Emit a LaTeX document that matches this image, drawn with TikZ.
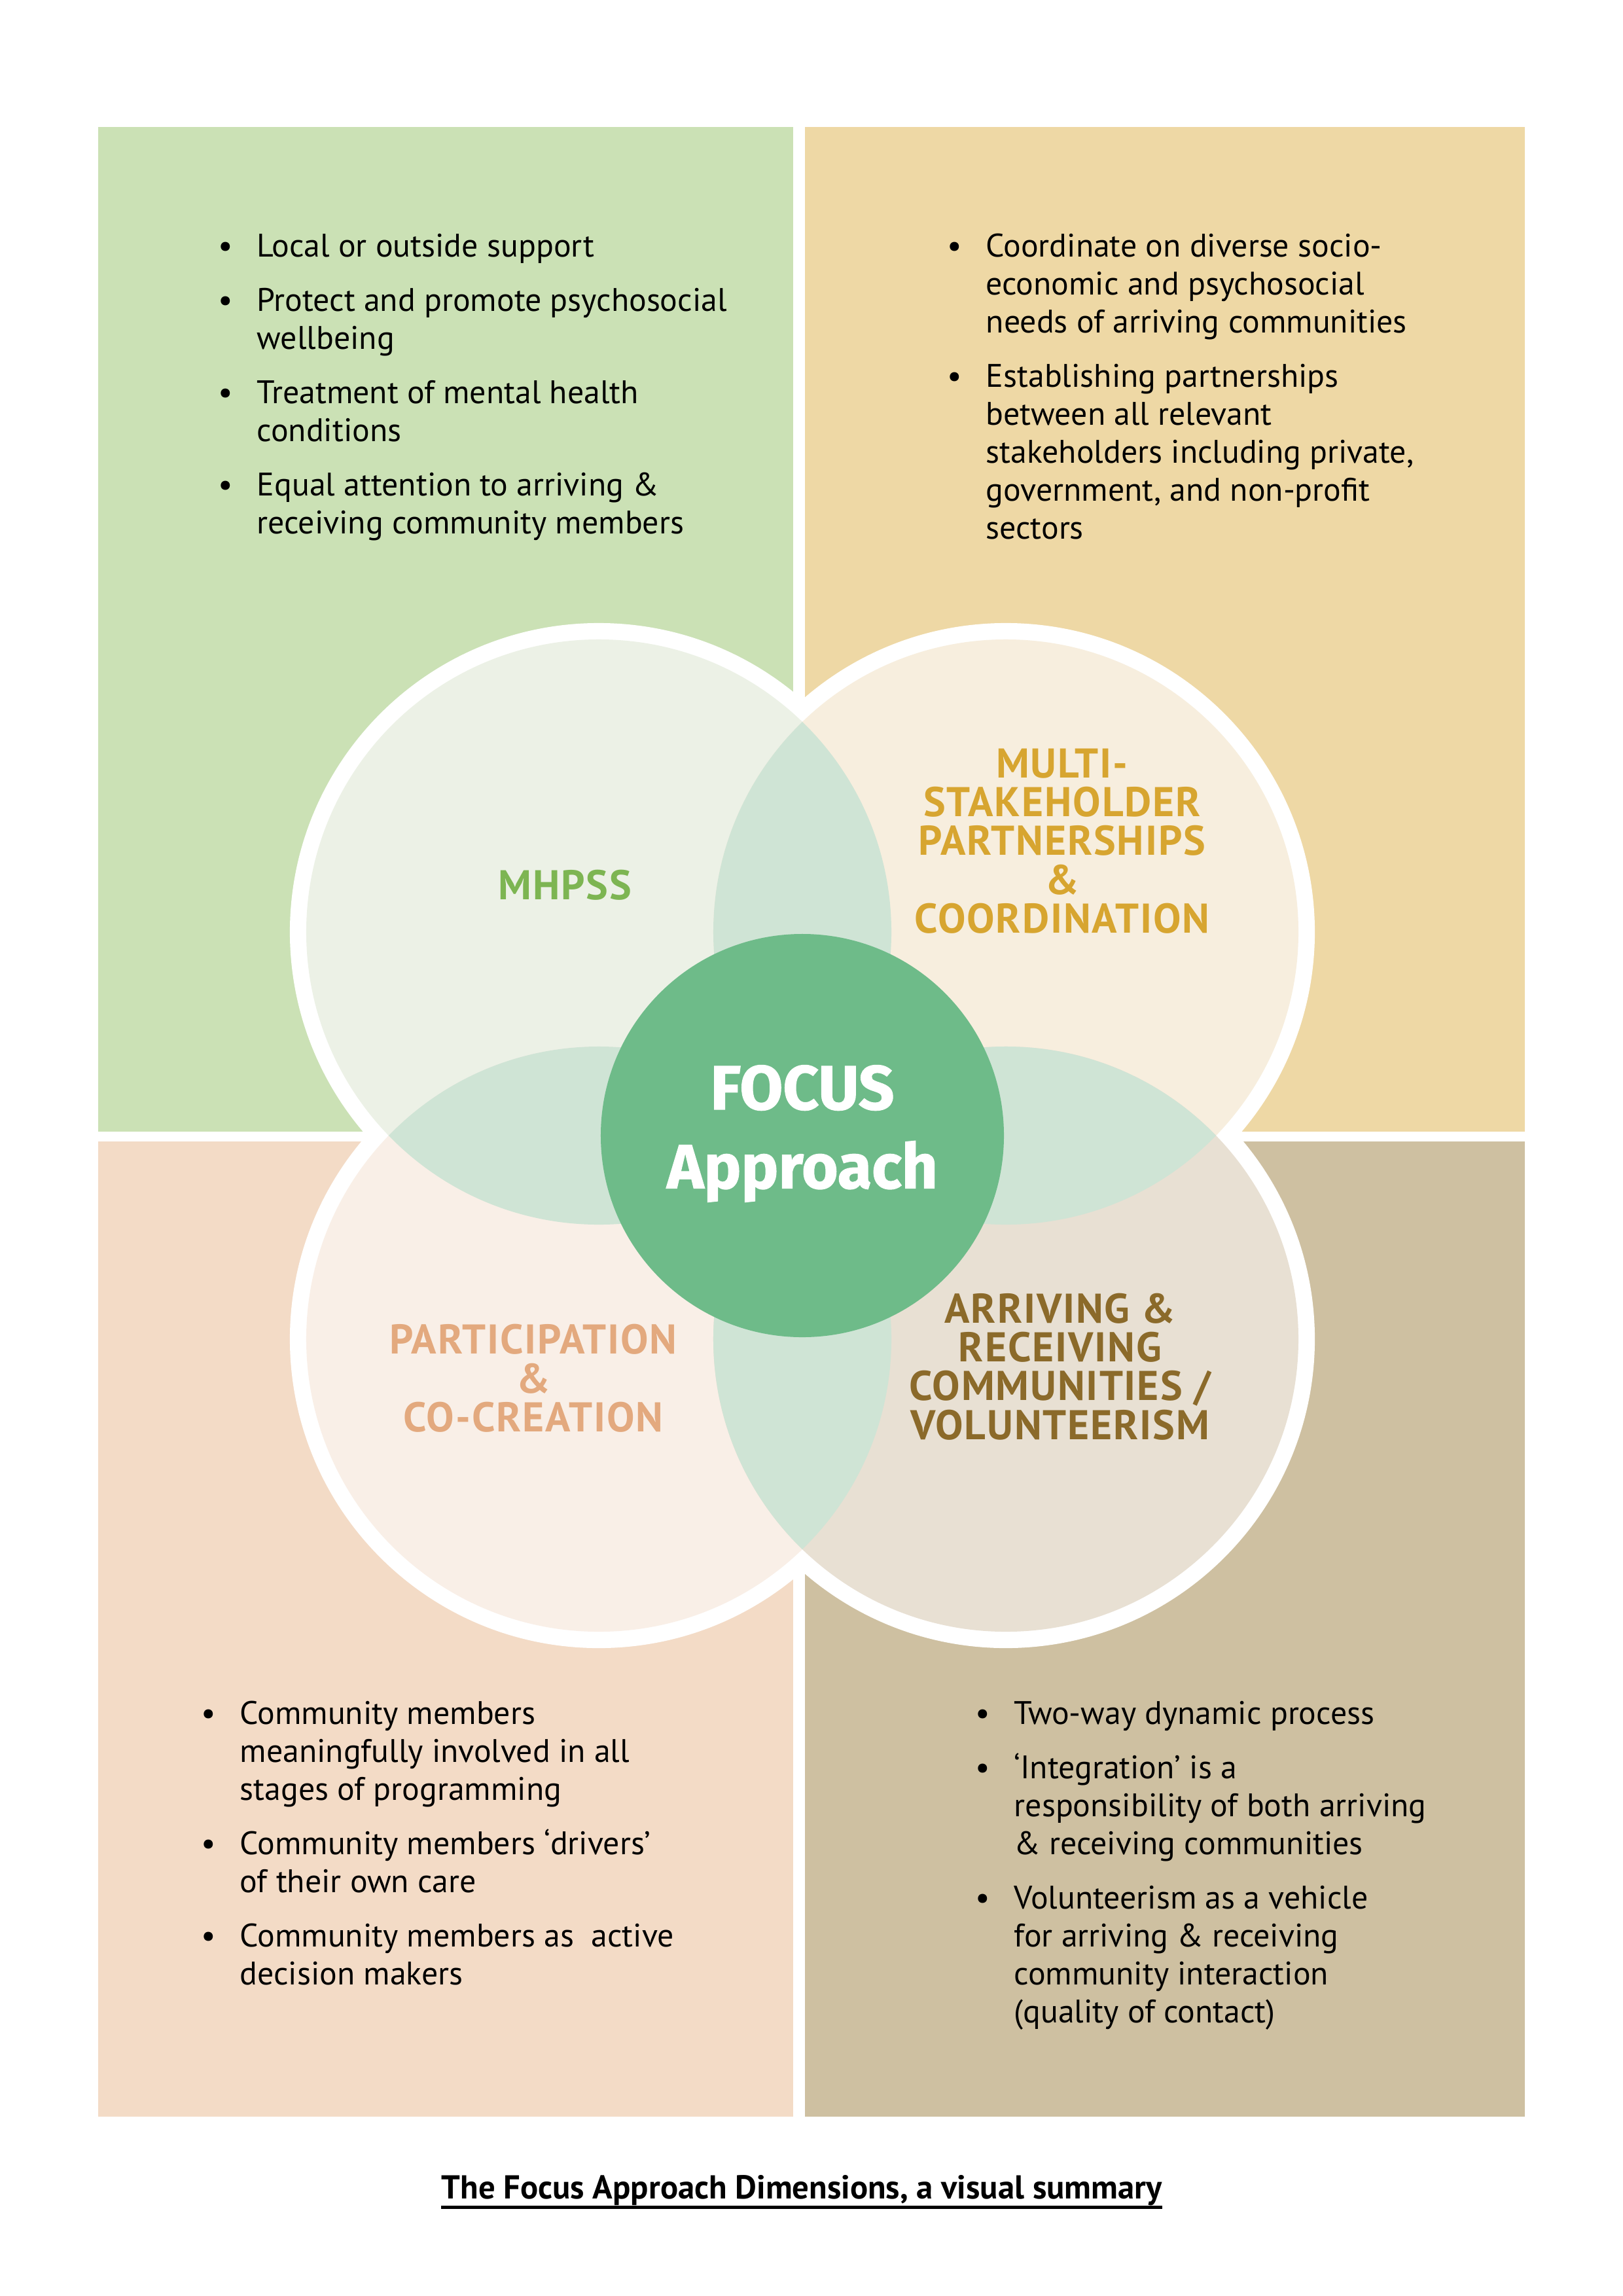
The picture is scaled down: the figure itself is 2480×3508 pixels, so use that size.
\documentclass[tikz,border=0pt]{standalone}
\usepackage{fontspec}
\setmainfont{PT Sans}
\newfontfamily\hubfont{Fira Sans}

\definecolor{panelgreen}{HTML}{CBE1B5}
\definecolor{panelgold}{HTML}{EED8A5}
\definecolor{panelpeach}{HTML}{F3DBC6}
\definecolor{paneltan}{HTML}{CEC0A1}
\definecolor{discgreen}{HTML}{ECF1E6}
\definecolor{discgold}{HTML}{F7EEDE}
\definecolor{discpeach}{HTML}{F9EFE7}
\definecolor{disctan}{HTML}{E8E0D3}
\definecolor{lensgreen}{HTML}{CFE4D5}
\definecolor{hubgreen}{HTML}{6EBB89}
\definecolor{headgreen}{HTML}{7DB552}
\definecolor{headgold}{HTML}{D7A530}
\definecolor{headpeach}{HTML}{E3A97E}
\definecolor{headbrown}{HTML}{8B6A2A}

\newcommand{\ringR}{39.97mm}
\newcommand{\discR}{37.85mm}
\newcommand{\hubR}{26.08mm}

\begin{document}
\begin{tikzpicture}[
  x=0.084677mm, y=-0.084677mm,
  panel/.style={draw=none},
  lens/.style={fill=lensgreen},
  bullets/.style={
    anchor=base west, inner sep=0pt, text=black,
    font=\fontsize{12}{14}\selectfont
  },
  heading/.style={
    align=center, inner sep=0pt,
    font=\fontsize{15.3}{14.3}\selectfont\bfseries\addfontfeatures{LetterSpace=3}
  },
  hubtext/.style={
    align=center, inner sep=0pt, text=white,
    font=\hubfont\bfseries\fontsize{23}{29}\selectfont\addfontfeatures{FakeBold=1.2}
  },
  caption/.style={anchor=base, inner sep=0pt, font=\fontsize{12.2}{14}\selectfont\bfseries},
]

\useasboundingbox[fill=white] (0,0) rectangle (2480,3508);

%% ════════════════════════════════════════════════
%% QUADRANT PANELS
%% ════════════════════════════════════════════════
\fill[panel, panelgreen] (150,194)  rectangle (1212,1729);
\fill[panel, panelgold]  (1230,194) rectangle (2330,1729);
\fill[panel, panelpeach] (150,1744) rectangle (1212,3234);
\fill[panel, paneltan]   (1230,1744) rectangle (2330,3234);

%% ════════════════════════════════════════════════
%% FOUR DIMENSION CIRCLES
%% white rings first, fills on top -> ring only shows outside
%% ════════════════════════════════════════════════
\coordinate (tl)  at (915,1424);
\coordinate (tr)  at (1537,1424);
\coordinate (bl)  at (915,2046);
\coordinate (br)  at (1537,2046);
\coordinate (hub) at (1226,1735);

\foreach \c in {tl,tr,bl,br}
  \fill[white] (\c) circle (\ringR);

\fill[discgreen] (tl) circle (\discR);
\fill[discgold]  (tr) circle (\discR);
\fill[discpeach] (bl) circle (\discR);
\fill[disctan]   (br) circle (\discR);

%% overlaps
\foreach \a/\b in {tl/tr, tl/bl, tr/br, bl/br} {
  \begin{scope}
    \clip (\a) circle (\discR);
    \fill[lens] (\b) circle (\discR);
  \end{scope}
}

%% centre
\fill[hubgreen] (hub) circle (\hubR);
\node[hubtext] (focus) at (1226,1732) {FOCUS\\Approach};

%% ════════════════════════════════════════════════
%% HEADINGS
%% ════════════════════════════════════════════════
\node[heading, text=headgreen] (mhpss) at (863,1352) {MHPSS};
\node[heading, text=headgold]  (multi) at (1623,1285)
  {MULTI-\\STAKEHOLDER\\PARTNERSHIPS\\\&\\COORDINATION};
\node[heading, text=headpeach] (partic) at (815,2106)
  {PARTICIPATION\\\&\\CO-CREATION};
\node[heading, text=headbrown] (arriv) at (1620,2088)
  {ARRIVING \&\\RECEIVING\\COMMUNITIES /\\VOLUNTEERISM};

%% ════════════════════════════════════════════════
%% BULLET LISTS
%% ════════════════════════════════════════════════
\node[bullets] (mhpsslist) at (333,392) {%
  \begin{tabular}[t]{@{}p{14.2pt}@{}l@{}}
  \textbullet & Local or outside support\\[6pt]
  \textbullet & Protect and promote psychosocial\\
              & wellbeing\\[6pt]
  \textbullet & Treatment of mental health\\
              & conditions\\[6pt]
  \textbullet & Equal attention to arriving \&\\
              & receiving community members
  \end{tabular}};

\node[bullets] (multilist) at (1447,392) {%
  \begin{tabular}[t]{@{}p{14.2pt}@{}l@{}}
  \textbullet & Coordinate on diverse socio-\\
              & economic and psychosocial\\
              & needs of arriving communities\\[6pt]
  \textbullet & Establishing partnerships\\
              & between all relevant\\
              & stakeholders including private,\\
              & government, and non-profit\\
              & sectors
  \end{tabular}};

\node[bullets] (particlist) at (307,2634) {%
  \begin{tabular}[t]{@{}p{14.2pt}@{}l@{}}
  \textbullet & Community members\\
              & meaningfully involved in all\\
              & stages of programming\\[6pt]
  \textbullet & Community members ‘drivers’\\
              & of their own care\\[6pt]
  \textbullet & Community members as~~active\\
              & decision makers
  \end{tabular}};

\node[bullets] (arrivlist) at (1490,2634) {%
  \begin{tabular}[t]{@{}p{14.2pt}@{}l@{}}
  \textbullet & Two-way dynamic process\\[6pt]
  \textbullet & ‘Integration’ is a\\
              & responsibility of both arriving\\
              & \& receiving communities\\[6pt]
  \textbullet & Volunteerism as a vehicle\\
              & for arriving \& receiving\\
              & community interaction\\
              & (quality of contact)
  \end{tabular}};

%% ════════════════════════════════════════════════
%% CAPTION
%% ════════════════════════════════════════════════
\node[caption] (title) at (1225,3359)
  {The Focus Approach Dimensions, a visual summary};
\draw[line width=1.2pt] ([yshift=-3.2pt]title.base west) -- ([yshift=-3.2pt]title.base east);

\end{tikzpicture}
\end{document}
